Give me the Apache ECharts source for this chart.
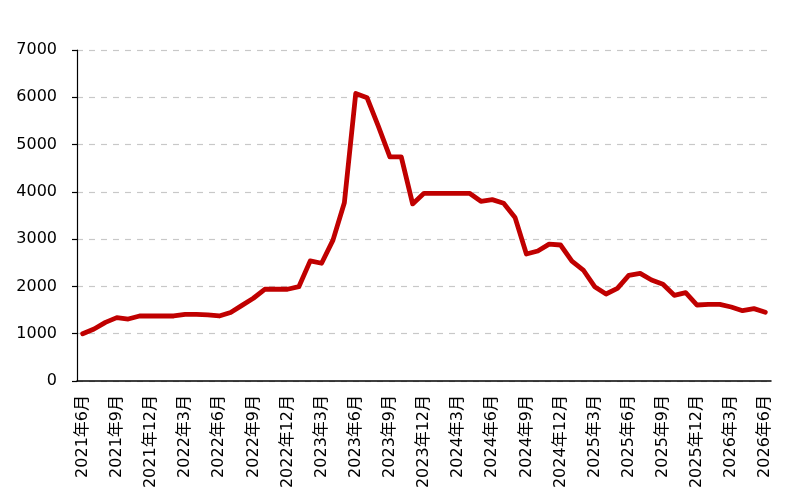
<!DOCTYPE html>
<html>
<head>
<meta charset="utf-8">
<script src="https://cdn.jsdelivr.net/npm/echarts@6/dist/echarts.min.js"></script>
<style>
  html, body { margin: 0; padding: 0; background: #fff; }
  #chart { width: 794px; height: 495px; }
</style>
</head>
<body>
<div id="chart"></div>
<script>
// monthly months, 2021年6月 .. 2026年6月
var startYear = 2021;
var startMonth = 6;
var months = [];
for (var k = 0; k < 61; k++) {
    var m = startMonth - 1 + k;
    months.push((startYear + Math.floor(m / 12)) + '年' + (m % 12 + 1) + '月');
}

// values
var values = [
    1000, 1100, 1240, 1340, 1310, 1375, 1375, 1375, 1375, 1410,
    1410, 1400, 1375, 1450, 1600, 1750, 1940, 1940, 1940, 1995,
    2540, 2490, 2980, 3770, 6080, 5990, 5380, 4740, 4740, 3745,
    3970, 3970, 3970, 3970, 3970, 3800, 3835, 3760, 3460, 2685,
    2750, 2895, 2876, 2537, 2347, 1995, 1840, 1960, 2235, 2277,
    2136, 2045, 1812, 1868, 1607, 1620, 1620, 1565, 1487, 1530,
    1452
];

var yTicks = [0, 1000, 2000, 3000, 4000, 5000, 6000, 7000];

var font = '"DejaVu Sans", "Noto Sans CJK SC", sans-serif';

var myChart = echarts.init(document.getElementById('chart'));

myChart.setOption({
    animation: false,
    backgroundColor: '#ffffff',
    grid: { left: 77, right: 23, top: 50, bottom: 114, containLabel: false },
    xAxis: {
        type: 'category',
        data: months,
        boundaryGap: true,
        axisLine: { lineStyle: { color: '#000', width: 1.5 } },
        axisTick: { interval: 2, length: 5, lineStyle: { color: '#000', width: 1.5 } },
        axisLabel: {
            interval: 2,
            rotate: 90,
            margin: 14,
            color: '#000',
            fontSize: 16,
            fontFamily: font
        },
        splitLine: { show: false }
    },
    yAxis: {
        type: 'value',
        min: yTicks[0],
        max: yTicks[yTicks.length - 1],
        interval: 1000,
        axisLine: { show: true, lineStyle: { color: '#000', width: 1.2 } },
        axisTick: { show: true, length: 5, lineStyle: { color: '#000', width: 1.2 } },
        axisLabel: {
            margin: 20,
            color: '#000',
            fontSize: 16,
            fontFamily: font,
            formatter: function (v) { return String(v); }
        },
        splitLine: {
            show: true,
            lineStyle: { color: '#c8c8c8', type: [6, 6], width: 1.2 }
        }
    },
    series: [{
        type: 'line',
        data: values,
        symbol: 'none',
        smooth: false,
        lineStyle: { color: '#c00000', width: 4.8, join: 'round', cap: 'round' }
    }]
});
</script>
</body>
</html>
